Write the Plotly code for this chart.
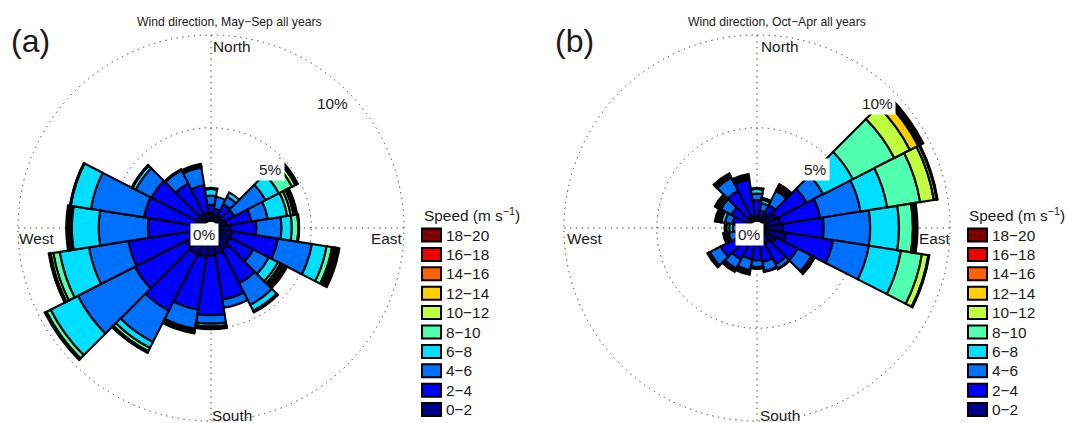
import numpy as np
import plotly.graph_objects as go

# 20 direction sectors, degrees clockwise from north
directions = [0, 18, 36, 54, 72, 90, 108, 126, 144, 162, 180, 198, 216, 234, 252, 270, 288, 306, 324, 342]
sector_width = 18

speed_labels = ["0−2", "2−4", "4−6", "6−8", "8−10", "10−12", "12−14", "14−16", "16−18", "18−20"]
speed_colors = ["#00008f", "#0000ff", "#0070ff", "#00dfff", "#50ffb0",
                "#bfff40", "#ffcf00", "#ff6000", "#ef0000", "#7f0000"]

# Cumulative frequency (%) at the top of each speed class
# Panel (a) May-Sep
may_0_2 = [0.4, 0.35, 0.35, 0.35, 0.45, 0.65, 0.75, 0.75, 0.9, 1.0, 1.1, 1.2, 1.2, 1.1, 0.75, 0.55, 0.45, 0.45, 0.45, 0.45]
may_2_4 = [0.85, 0.65, 1.05, 1.0, 1.8, 2.05, 3.25, 2.15, 2.95, 3.5, 4.3, 4.05, 4.6, 4.2, 4.1, 3.0, 3.25, 3.2, 2.3, 1.95]
may_4_6 = [1.35, 1.3, 1.5, 2.9, 2.7, 3.4, 5.1, 3.1, 4.25, 3.95, 4.75, 5.1, 6.5, 7.65, 6.25, 5.65, 6.15, 4.15, 3.1, 2.9]
may_6_8 = [1.7, 1.3, 1.75, 3.7, 3.75, 3.95, 5.9, 3.65, 4.6, 3.95, 4.9, 5.1, 6.85, 9.3, 7.85, 7.1, 7.25, 4.35, 3.1, 2.9]
may_8_10 = [1.7, 1.3, 1.75, 4.5, 3.95, 4.3, 6.2, 3.8, 4.6, 3.95, 5.0, 5.1, 7.05, 9.55, 8.2, 7.1, 7.25, 4.35, 3.1, 2.9]
may_10_12 = [1.7, 1.3, 1.75, 4.7, 4.1, 4.3, 6.3, 3.85, 4.6, 3.95, 5.05, 5.15, 7.1, 9.55, 8.35, 7.1, 7.25, 4.35, 3.1, 2.9]
may_12_14 = [1.72, 1.3, 1.75, 4.75, 4.17, 4.32, 6.4, 3.97, 4.63, 3.95, 5.05, 5.22, 7.12, 9.58, 8.38, 7.2, 7.27, 4.37, 3.12, 2.97]
may_14_16 = [1.73, 1.3, 1.75, 4.8, 4.23, 4.33, 6.5, 4.08, 4.67, 3.95, 5.05, 5.28, 7.13, 9.62, 8.42, 7.3, 7.28, 4.38, 3.13, 3.03]
may_16_18 = [1.75, 1.3, 1.75, 4.85, 4.3, 4.35, 6.6, 4.2, 4.7, 3.95, 5.05, 5.35, 7.15, 9.65, 8.45, 7.4, 7.3, 4.4, 3.15, 3.1]
may_18_20 = [1.75, 1.3, 1.75, 4.85, 4.3, 4.35, 6.6, 4.2, 4.7, 3.95, 5.05, 5.35, 7.15, 9.65, 8.45, 7.4, 7.3, 4.4, 3.15, 3.1]

# Panel (b) Oct-Apr
oct_0_2 = [0.25, 0.25, 0.45, 0.75, 0.9, 1.0, 1.2, 0.75, 0.55, 0.45, 0.45, 0.45, 0.45, 0.45, 0.25, 0.15, 0.15, 0.15, 0.25, 0.25]
oct_2_4 = [1.1, 0.55, 1.0, 2.6, 3.05, 3.2, 3.75, 2.05, 1.8, 1.45, 1.35, 1.3, 1.5, 1.8, 0.75, 0.55, 0.95, 1.15, 1.85, 2.25]
oct_4_6 = [1.45, 0.95, 1.85, 3.6, 5.25, 5.7, 5.7, 2.9, 2.05, 1.95, 1.7, 1.9, 2.05, 2.45, 1.15, 0.9, 1.35, 1.8, 2.65, 2.35]
oct_6_8 = [1.7, 1.15, 1.9, 5.4, 6.7, 7.25, 7.45, 3.0, 2.05, 1.95, 1.7, 1.9, 2.05, 2.45, 1.25, 1.1, 1.55, 1.8, 2.65, 2.35]
oct_8_10 = [1.7, 1.15, 1.9, 7.9, 8.5, 8.0, 8.6, 3.05, 2.05, 1.95, 1.7, 1.9, 2.05, 2.45, 1.35, 1.25, 1.6, 1.8, 2.65, 2.35]
oct_10_12 = [1.7, 1.15, 1.9, 8.85, 9.25, 8.1, 8.95, 3.05, 2.05, 1.95, 1.7, 1.9, 2.05, 2.45, 1.35, 1.3, 1.6, 1.8, 2.65, 2.35]
oct_12_14 = [1.72, 1.18, 2.02, 9.35, 9.4, 8.15, 8.97, 3.07, 2.07, 1.97, 1.73, 1.98, 2.12, 2.5, 1.38, 1.32, 1.7, 1.92, 2.73, 2.42]
oct_14_16 = [1.73, 1.22, 2.13, 9.45, 9.43, 8.2, 8.98, 3.08, 2.08, 1.98, 1.77, 2.07, 2.18, 2.55, 1.42, 1.33, 1.8, 2.03, 2.82, 2.48]
oct_16_18 = [1.75, 1.25, 2.25, 9.55, 9.45, 8.25, 9.0, 3.1, 2.1, 2.0, 1.8, 2.15, 2.25, 2.6, 1.45, 1.35, 1.9, 2.15, 2.9, 2.55]
oct_18_20 = [1.75, 1.25, 2.25, 9.65, 9.45, 8.25, 9.0, 3.1, 2.1, 2.0, 1.8, 2.15, 2.25, 2.6, 1.45, 1.35, 1.9, 2.15, 2.9, 2.55]

may_bands = [may_0_2, may_2_4, may_4_6, may_6_8, may_8_10, may_10_12, may_12_14, may_14_16, may_16_18, may_18_20]
oct_bands = [oct_0_2, oct_2_4, oct_4_6, oct_6_8, oct_8_10, oct_10_12, oct_12_14, oct_14_16, oct_16_18, oct_18_20]

W, H = 1067, 423
FONT = "Liberation Sans"
TEXT_COLOR = "#1a1a1a"


def add_rose(fig, bands, subplot):
    # bars are stacked, so turn the cumulative readings into class widths
    widths = np.diff(np.vstack([np.zeros(len(directions)), np.array(bands)]), axis=0)
    for label, color, r in zip(speed_labels, speed_colors, widths):
        fig.add_trace(go.Barpolar(
            r=r, theta=directions, width=sector_width, name=label, subplot=subplot,
            marker=dict(color=color, line=dict(color="black", width=2.1)),
            showlegend=False,
        ))


def polar_layout(cx):
    cy, radius = 228, 194.9
    return dict(
        domain=dict(x=[(cx - radius) / W, (cx + radius) / W],
                    y=[(H - cy - radius) / H, (H - cy + radius) / H]),
        barmode="stack",
        bgcolor="white",
        # top of the range past 10, plotly clips a grid ring sitting right on the edge
        radialaxis=dict(range=[-0.4, 10.1], tickvals=[5, 10], showticklabels=False, ticks="",
                        showline=False, gridcolor="#333", gridwidth=1.4, griddash="1.3px,4.5px"),
        angularaxis=dict(rotation=90, direction="clockwise", tickvals=[0, 90, 180, 270],
                         showticklabels=False, ticks="", showline=False,
                         gridcolor="#333", gridwidth=1.4, griddash="1.3px,4.5px"),
    )


def text(x, y, s, size=15.4, bg=None, anchor="center"):
    return dict(x=x / W, y=1 - y / H, xref="paper", yref="paper", text=s, showarrow=False,
                xanchor=anchor, yanchor="middle", bgcolor=bg, borderpad=2,
                font=dict(family=FONT, size=size, color=TEXT_COLOR))


def panel_annotations(dx, title_dx, axis_dx, title, letter, letter_x):
    return [
        text(229 + title_dx, 22, title, size=12.2),
        text(letter_x, 41, letter, size=32),
        text(232 + axis_dx, 46, "North"),
        text(232 + axis_dx, 415, "South"),
        text(37 + axis_dx, 238, "West"),
        text(387 + axis_dx, 238, "East"),
        text(271 + dx - 1, 169, "5%", bg="white"),
        text(333 + dx - 1, 103, "10%", bg="white"),
        text(205 + dx - 1, 234, "0%", bg="white"),
        text(421 + dx, 215, "Speed (m s<sup>−1</sup>)", anchor="left"),
    ]


def legend_parts(dx):
    # swatches and labels of the speed key, top row is the fastest class
    shapes, notes = [], []
    for i, (label, color) in enumerate(zip(speed_labels[::-1], speed_colors[::-1])):
        yc = 235 + 19.4 * i
        shapes.append(dict(type="rect", xref="paper", yref="paper",
                           x0=(422 + dx) / W, x1=(441 + dx) / W,
                           y0=1 - (yc + 6.5) / H, y1=1 - (yc - 6.5) / H,
                           fillcolor=color, line=dict(color="black", width=2)))
        notes.append(text(443 + dx, yc, label, anchor="left"))
    return shapes, notes


fig = go.Figure()
add_rose(fig, may_bands, "polar")
add_rose(fig, oct_bands, "polar2")

shapes_a, notes_a = legend_parts(0)
shapes_b, notes_b = legend_parts(546)

annotations = (panel_annotations(0, 0, 0, "Wind direction, May−Sep all years", "(a)", 30)
               + panel_annotations(545, 548, 548, "Wind direction, Oct−Apr all years", "(b)", 574)
               + notes_a + notes_b)

fig.update_layout(
    width=W, height=H,
    margin=dict(l=0, r=0, t=0, b=0),
    paper_bgcolor="white",
    showlegend=False,
    polar=polar_layout(211),
    polar2=polar_layout(757),
    shapes=shapes_a + shapes_b,
    annotations=annotations,
)

# the page's default body margin would push the figure off the window
fig.write_html("out.html", config={"displayModeBar": False},
               post_script="document.body.style.margin='0';document.body.style.overflow='hidden';")
